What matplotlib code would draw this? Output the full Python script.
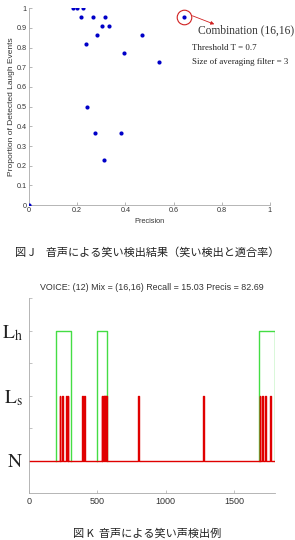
import numpy as np
import matplotlib.pyplot as plt

plt.rcParams['font.family'] = ['Liberation Sans', 'Noto Sans CJK JP', 'DejaVu Sans']
plt.rcParams['mathtext.fontset'] = 'stix'

# scatter: precision vs proportion of detected laugh events
precision = [0.0, 0.184, 0.200, 0.225, 0.217, 0.264, 0.316, 0.305, 0.333,
             0.282, 0.471, 0.235, 0.394, 0.540, 0.240, 0.276, 0.381, 0.312]
recall = [0.0, 1.0, 1.0, 1.0, 0.955, 0.955, 0.955, 0.909, 0.909,
          0.864, 0.864, 0.818, 0.773, 0.727, 0.5, 0.364, 0.364, 0.227]
best_point = (0.644, 0.955)

# detection example
green_on = [200, 500, 1685]
green_off = [305, 573, 1800]
red_on = [225, 240, 273, 283, 390, 406, 532, 540, 548, 556, 564, 800, 1276, 1688, 1703, 1730, 1765]
red_off = [231, 246, 279, 289, 396, 412, 538, 546, 554, 562, 572, 805, 1281, 1694, 1709, 1736, 1771]
level_n, level_s, level_h = 0, 2, 4

fig = plt.figure(figsize=(2.95, 5.4), dpi=100)

ax1 = fig.add_axes([0.098, 0.620, 0.817, 0.365])
ax1.scatter(precision, recall, s=9, color='#0000c8', zorder=3, linewidths=0)
ax1.scatter([best_point[0]], [best_point[1]], s=9, color='#0000c8', zorder=3, linewidths=0)
ax1.plot([best_point[0]], [best_point[1]], 'o', ms=10.5, mfc='none', mec='#d02020', mew=0.8)
ax1.annotate('', xy=(0.78, 0.913), xytext=(0.668, 0.966),
             arrowprops=dict(arrowstyle='-|>', color='#d02020', lw=0.6, mutation_scale=5))
ax1.text(0.70, 0.885, 'Combination (16,16)', family='Liberation Serif', fontsize=8.3,
         va='center', ha='left', color='#333333', clip_on=False)
ax1.text(0.676, 0.798, 'Threshold T = 0.7', family='Liberation Serif', fontsize=6.4,
         va='center', ha='left', color='#222222', clip_on=False)
ax1.text(0.676, 0.727, 'Size of averaging filter = 3', family='Liberation Serif', fontsize=6.4,
         va='center', ha='left', color='#222222', clip_on=False)
ax1.set_xlim(0, 1)
ax1.set_ylim(0, 1)
ax1.set_xticks(np.arange(0, 1.01, 0.2))
ax1.set_xticklabels(['0', '0.2', '0.4', '0.6', '0.8', '1'])
ax1.set_yticks(np.arange(0, 1.01, 0.1))
ax1.set_yticklabels(['0', '0.1', '0.2', '0.3', '0.4', '0.5', '0.6', '0.7', '0.8', '0.9', '1'])
ax1.tick_params(direction='in', length=2, width=0.5, color='#999999', labelsize=5.2,
                pad=1.5, labelcolor='#333333')
for s in ['top', 'right']:
    ax1.spines[s].set_visible(False)
for s in ['left', 'bottom']:
    ax1.spines[s].set_color('#aaaaaa')
    ax1.spines[s].set_linewidth(0.6)
ax1.set_xlabel('Precision', fontsize=5.3, color='#333333', labelpad=3)
ax1.set_ylabel('Proportion of Detected Laugh Events', fontsize=6, color='#333333', labelpad=1)

fig.text(0.05, 1 - 252 / 540, '図 J　音声による笑い検出結果（笑い検出と適合率）',
         family=['Noto Sans CJK JP'], fontsize=8, va='center', ha='left', color='#222222')

ax2 = fig.add_axes([0.098, 0.087, 0.834, 0.361])
for a, b in zip(green_on, green_off):
    ax2.plot([a, a, b, b], [level_n, level_h, level_h, level_n], color='#44dd44', lw=1.0)
rx = [0]
ry = [level_n]
for a, b in zip(red_on, red_off):
    rx += [a, a, b, b]
    ry += [level_n, level_s, level_s, level_n]
rx.append(1800)
ry.append(level_n)
ax2.plot(rx, ry, color='#e00000', lw=1.0)
ax2.set_xlim(0, 1800)
ax2.set_ylim(-1, 5)
ax2.set_xticks([0, 500, 1000, 1500])
ax2.set_yticks([0, 1, 2, 3, 4, 5])
ax2.set_yticklabels([r'$\mathrm{N}$', '', r'$\mathrm{L_s}$', '', r'$\mathrm{L_h}$', ''])
ax2.tick_params(axis='y', direction='in', length=2, width=0.5, color='#aaaaaa',
                labelsize=14, pad=4, labelcolor='#222222')
ax2.tick_params(axis='x', direction='in', length=2, width=0.5, color='#aaaaaa',
                labelsize=6.5, pad=3, labelcolor='#333333')
for s in ['top', 'right']:
    ax2.spines[s].set_visible(False)
for s in ['left', 'bottom']:
    ax2.spines[s].set_color('#aaaaaa')
    ax2.spines[s].set_linewidth(0.6)
ax2.set_title('VOICE: (12) Mix = (16,16) Recall = 15.03 Precis = 82.69',
              fontsize=6.4, color='#333333', pad=6)

fig.text(0.5, 1 - 533 / 540, '図 K  音声による笑い声検出例',
         family=['Noto Sans CJK JP'], fontsize=8, va='center', ha='center', color='#222222')

fig.savefig('out.png', dpi=100)
